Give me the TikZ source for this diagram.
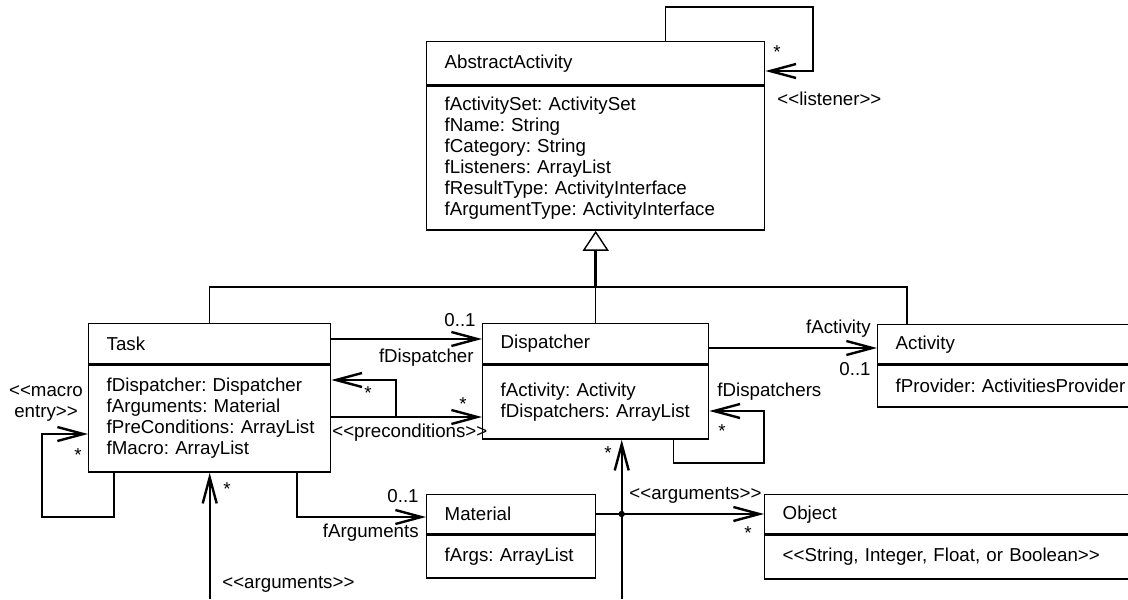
\documentclass[tikz,border=0pt]{standalone}
\usepackage{fontspec}
\setmainfont{Liberation Sans}[Ligatures=TeXOff]
\usetikzlibrary{arrows.meta}
\tikzset{
  umlfont/.style={font=\fontsize{9.35pt}{10.5pt}\selectfont, execute at begin node={\hyphenpenalty=10000 }},
  classtitle/.style={draw, line width=0.7pt, anchor=north west, inner xsep=9pt, inner ysep=0pt, align=left, umlfont},
  classattr/.style={classtitle},
  divider/.style={line width=1.1pt},
  assoc/.style={line width=1.1pt, -{Straight Barb[length=13pt, width=7pt, line width=1.2pt]}},
  loopline/.style={assoc, line width=0.7pt},
  genbar/.style={line width=0.7pt},
  genstem/.style={line width=1.4pt, -{Triangle[open, length=10pt, width=13pt, line width=0.7pt]}},
  lbl/.style={inner sep=0pt, umlfont}
}

\begin{document}
\begin{tikzpicture}[x=0.5pt, y=-0.5pt]
  \useasboundingbox (0,0) rectangle (1128,599);
  \clip (0,0) rectangle (1128,599);

  \node[classtitle, text width=151pt, minimum height=21.5pt] (aa) at (426,41) {AbstractActivity};
  \node[classattr, text width=151pt, minimum height=72pt] (aa attr) at (aa.south west) {fActivitySet:~ActivitySet\\fName:~String\\fCategory:~String\\fListeners:~ArrayList\\fResultType:~ActivityInterface\\fArgumentType:~ActivityInterface};
  \node[classtitle, text width=103pt, minimum height=20pt] (task) at (88,323) {Task};
  \node[classattr, text width=103pt, minimum height=53.5pt] (task attr) at (task.south west) {fDispatcher:~Dispatcher\\fArguments:~Material\\fPreConditions:~ArrayList\\fMacro:~ArrayList};
  \node[classtitle, text width=95pt, minimum height=20pt] (disp) at (482,323) {Dispatcher};
  \node[classattr, text width=95pt, minimum height=37pt] (disp attr) at (disp.south west) {fActivity:~Activity\\fDispatchers:~ArrayList};
  \node[classtitle, text width=118.5pt, minimum height=19.5pt] (act) at (877,324) {Activity};
  \node[classattr, text width=118.5pt, minimum height=21pt] (act attr) at (act.south west) {fProvider:~ActivitiesProvider};
  \node[classtitle, text width=66.5pt, minimum height=19.5pt] (mat) at (426,494) {Material};
  \node[classattr, text width=66.5pt, minimum height=21.5pt] (mat attr) at (mat.south west) {fArgs:~ArrayList};
  \node[classtitle, text width=175pt, minimum height=19.5pt] (obj) at (764,494) {Object};
  \node[classattr, text width=175pt, minimum height=22pt] (obj attr) at (obj.south west) {<<String, Integer, Float, or Boolean>>};
  \draw[divider] (aa.south west) -- (aa.south east) (task.south west) -- (task.south east) (disp.south west) -- (disp.south east)
        (act.south west) -- (act.south east) (mat.south west) -- (mat.south east) (obj.south west) -- (obj.south east);

  \coordinate (gen) at (aa attr.south |- 0,287);
  \draw[genstem] (gen) -- (aa attr.south);
  \draw[genbar] (task.north) |- (gen) -| ([xshift=15pt]act.north west) (disp.north) -- (gen);

  \draw[loopline] ([xshift=-50pt]aa.north east) |- (813,7) |- (aa.east |- 0,71);
  \draw[assoc] (task.east |- 0,339) -- (disp.west |- 0,339);
  \coordinate (precond) at (396,417);
  \draw[assoc] (task attr.east |- precond) -- (disp attr.west |- precond);
  \draw[loopline] (precond) |- (task attr.east |- 0,380);
  \draw[loopline] ([xshift=13pt]task attr.south west) |- (42,517) |- (task attr.west |- 0,434);
  \draw[assoc] ([xshift=104.5pt]task attr.south west) |- (mat.west |- 0,517);
  \coordinate (args task) at (task attr.south |- 0,599);
  \draw[assoc] (args task) -- (task attr.south);
  \coordinate (args disp) at ([xshift=13pt]disp attr.south |- 0,599);
  \coordinate (join) at (args disp |- 0,514);
  \draw[assoc] (args disp) -- (args disp |- disp attr.south);
  \draw[assoc] (mat.east |- join) -- (obj.west |- join);
  \fill (join) circle (1.6pt);
  \draw[loopline] ([xshift=-18pt]disp attr.south east) |- (764,463) |- (disp attr.east |- 0,411);
  \draw[assoc] (disp.east |- 0,348) -- (act.west |- 0,348);

  \node[lbl] (listener star) at (777,52) {*};
  \node[lbl, anchor=west] (listener) at (777,99) {<<listener>>};
  \node[lbl, anchor=east] (disp mult) at (476,320) {0..1};
  \node[lbl, anchor=east] (disp role) at (474,358) {fDispatcher};
  \node[lbl] (back star) at (368,393) {*};
  \node[lbl] (precond star) at (463,404) {*};
  \node[lbl, anchor=west] (precond lbl) at (332,433) {<<preconditions>>};
  \node[lbl, align=center] (macro) at (46,403) {<<macro\\entry>>};
  \node[lbl] (macro star) at (78,455) {*};
  \node[lbl, anchor=east] (args mult) at (419,496) {0..1};
  \node[lbl, anchor=east] (args role) at (419,533) {fArguments};
  \node[lbl] (args task star) at (227,489) {*};
  \node[lbl, anchor=west] (args task lbl) at (222,584) {<<arguments>>};
  \node[lbl] (args disp star) at (608,453) {*};
  \node[lbl, anchor=west] (args disp lbl) at (629,495) {<<arguments>>};
  \node[lbl] (obj star) at (748,533) {*};
  \node[lbl, anchor=west] (disps role) at (717,392) {fDispatchers};
  \node[lbl] (disps star) at (722,431) {*};
  \node[lbl, anchor=east] (act role) at (871,329) {fActivity};
  \node[lbl, anchor=east] (act mult) at (871,369) {0..1};
\end{tikzpicture}
\end{document}
